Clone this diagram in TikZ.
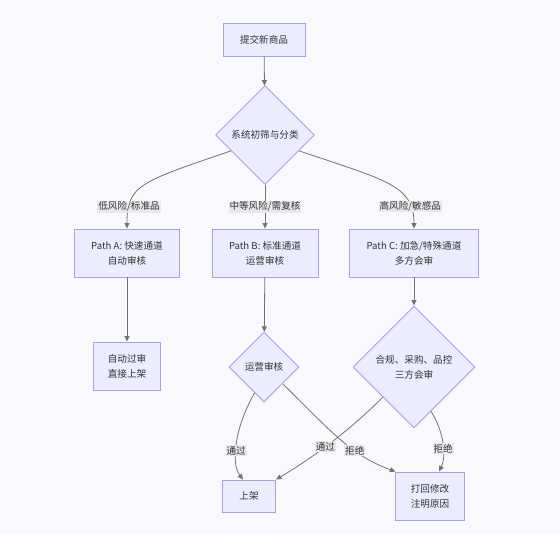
\documentclass[tikz,border=0pt]{standalone}
\usepackage{fontspec}
\newfontfamily\cjk{Noto Sans CJK SC}
\usetikzlibrary{arrows.meta, shapes.geometric}
\definecolor{bgcol}{HTML}{F8F9FC}
\definecolor{nodefill}{HTML}{ECECFF}
\definecolor{nodeline}{HTML}{9370DB}
\definecolor{txtcol}{HTML}{333333}

\begin{document}
\begin{tikzpicture}[x=1pt, y=-1pt,
  box/.style={rectangle, draw=nodeline!70!white, fill=nodefill, line width=0.9pt,
              inner xsep=17pt, inner ysep=0pt, minimum height=48pt, align=center,
              text=txtcol, font=\cjk\fontsize{9.6}{15}\selectfont},
  dec/.style={diamond, aspect=1, draw=nodeline!70!white, fill=nodefill, line width=0.9pt,
              inner sep=0pt, align=center, text=txtcol, font=\cjk\fontsize{9.6}{15}\selectfont},
  elabel/.style={fill=black!9, inner sep=1pt, text=txtcol, font=\cjk\fontsize{9.6}{12}\selectfont},
  arr/.style={-{Triangle[length=5.5pt, width=5pt]}, line width=0.8pt, black!55}]
  \fill[bgcol] (0,0) rectangle (560,535);
  \node[box, minimum height=33pt] (submit) at (264,40) {提交新商品};
  \node[dec, minimum size=99pt] (screen) at (265,135) {系统初筛与分类};
  \node[box] (pathA) at (127,253) {Path A: 快速通道\\自动审核};
  \node[box] (pathB) at (265,253) {Path B: 标准通道\\运营审核};
  \node[box] (pathC) at (414,253) {Path C: 加急/特殊通道\\多方会审};
  \node[box, inner xsep=14pt] (auto) at (127,366) {自动过审\\直接上架};
  \node[dec, minimum size=70pt] (ops) at (264,367) {运营审核};
  \node[dec, minimum size=122pt] (joint) at (414,367) {合规、采购、品控\\三方会审};
  \node[box, minimum height=32pt] (listed) at (249,496) {上架};
  \node[box, inner xsep=15pt] (reject) at (430,496) {打回修改\\注明原因};
  \draw[arr] (submit) -- (screen);
  \draw[arr] (screen.205) .. controls (140,182) and (127,185) .. node[elabel, pos=0.8] (lowrisk) {低风险/标准品} (pathA.north);
  \draw[arr] (screen.south) -- node[elabel] (midrisk) {中等风险/需复核} (pathB.north);
  \draw[arr] (screen.335) .. controls (385,180) and (414,185) .. node[elabel, pos=0.8] (highrisk) {高风险/敏感品} (pathC.north);
  \draw[arr] (pathA) -- (auto);
  \draw[arr] (pathB) -- (ops);
  \draw[arr] (pathC) -- (joint);
  \draw[arr] (ops.250) .. controls (236,425) and (230,462) .. node[elabel, pos=0.6] (opspass) {通过} ([xshift=-6pt]listed.north);
  \draw[arr] (ops.318) .. controls (330,430) and (350,455) .. node[elabel, pos=0.65] (opsrej) {拒绝} (reject.north west);
  \draw[arr] (joint.224) .. controls (355,425) and (322,452) .. node[elabel, pos=0.6] (jointpass) {通过} (listed.north east);
  \draw[arr] (joint.291) .. controls (443,430) and (447,455) .. node[elabel, pos=0.6] (jointrej) {拒绝} ([xshift=9pt]reject.north);
\end{tikzpicture}
\end{document}
